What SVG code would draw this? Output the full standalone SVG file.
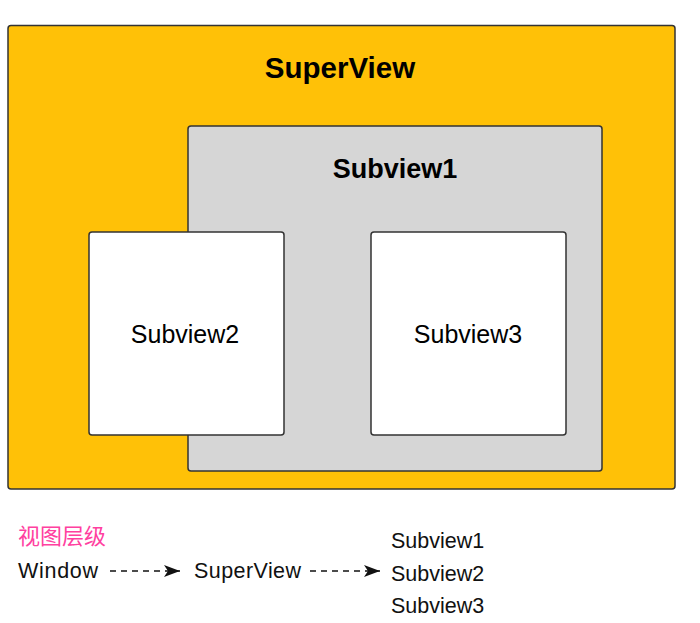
<svg xmlns="http://www.w3.org/2000/svg" width="700" height="623" viewBox="0 0 700 623">
<style>
.box{stroke:#333;stroke-width:1.5}
.t{font-family:"Liberation Sans",Arial,sans-serif;fill:#000}
.b{font-weight:bold}
.lbl{font-family:"Liberation Sans",Arial,sans-serif;font-size:21.5px;fill:#111}
.dash{stroke:#111;stroke-width:1.5;stroke-dasharray:6,5;fill:none}
</style>
<defs>
<marker id="arr" markerWidth="18" markerHeight="12" refX="16" refY="6" orient="auto" markerUnits="userSpaceOnUse">
<path d="M0,0 L16,6 L0,12 L4,6 Z" fill="#111"/>
</marker>
</defs>
<rect width="700" height="623" fill="#fff"/>
<g id="superview">
<rect class="box" x="8" y="25.5" width="667" height="463.5" rx="3" fill="#FFC107"/>
<text class="t b" x="340" y="78" font-size="29.5" text-anchor="middle">SuperView</text>
</g>
<g id="subview1">
<rect class="box" x="188" y="126" width="414" height="345" rx="3" fill="#D6D6D6"/>
<text class="t b" x="395" y="178" font-size="27" text-anchor="middle">Subview1</text>
</g>
<g id="subview2">
<rect class="box" x="89" y="232" width="195" height="203" rx="3" fill="#fff"/>
<text class="t" x="185" y="343" font-size="25" text-anchor="middle">Subview2</text>
</g>
<g id="subview3">
<rect class="box" x="371" y="232" width="195" height="203" rx="3" fill="#fff"/>
<text class="t" x="468" y="343" font-size="25" text-anchor="middle">Subview3</text>
</g>
<g id="legend">
<text x="18" y="544" font-family="'Liberation Sans','Noto Sans CJK SC',sans-serif" font-size="22" fill="#FF40A0">视图层级</text>
<text class="lbl" x="18" y="578" textLength="80">Window</text>
<text class="lbl" x="194" y="578" textLength="107">SuperView</text>
<text class="lbl" x="391" y="548">Subview1</text>
<text class="lbl" x="391" y="581">Subview2</text>
<text class="lbl" x="391" y="613">Subview3</text>
</g>
<g id="connectors">
<line class="dash" x1="110" y1="571" x2="180" y2="571" marker-end="url(#arr)"/>
<line class="dash" x1="310" y1="571" x2="380" y2="571" marker-end="url(#arr)"/>
</g>
</svg>
